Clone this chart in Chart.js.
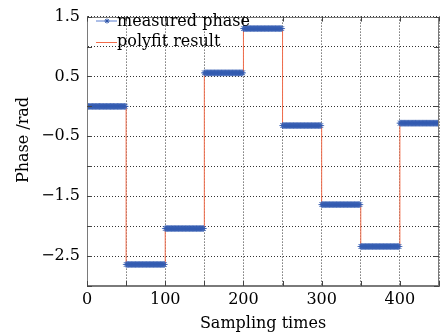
<!DOCTYPE html>
<html>
<head>
<meta charset="utf-8">
<script src="https://cdn.jsdelivr.net/npm/chart.js@4/dist/chart.umd.min.js"></script>
<style>
  html, body { margin: 0; padding: 0; background: #fff; }
  canvas { display: block; }
</style>
</head>
<body>
<canvas id="phaseChart" width="444" height="336"></canvas>
<script>
// step segments (sample index where each level starts)
const segmentStarts = [0, 50, 100, 150, 200, 250, 300, 350, 400];
const lastSample = 450;
// level of the measured phase in each segment, rad
const measuredLevels = [0.00, -2.64, -2.04, 0.56, 1.30, -0.32, -1.64, -2.34, -0.28];
// level of the polyfit result in each segment, rad
const polyfitLevels = [0.00, -2.64, -2.04, 0.56, 1.30, -0.32, -1.64, -2.34, -0.28];

const xLabels = [0, 100, 200, 300, 400];
const yLabels = [1.5, 0.5, -0.5, -1.5, -2.5];

const fontFamily = "'DejaVu Serif', 'Liberation Serif', serif";
const blue = '#2b52a6';
const orange = '#f26d4b';

// one measured point per sample
const measuredPoints = [];
segmentStarts.forEach(function(start, k) {
    const end = k + 1 < segmentStarts.length ? segmentStarts[k + 1] - 1 : lastSample;
    for (let i = start; i <= end; i++) {
        measuredPoints.push({ x: i, y: measuredLevels[k] });
    }
});

// polyfit as a step line
const polyfitPoints = segmentStarts.map(function(start, k) {
    return { x: start, y: polyfitLevels[k] };
});
polyfitPoints.push({ x: lastSample, y: polyfitLevels[polyfitLevels.length - 1] });

function drawStar(ctx, x, y, r) {
    ctx.beginPath();
    ctx.moveTo(x, y - r); ctx.lineTo(x, y + r);
    ctx.moveTo(x - r, y); ctx.lineTo(x + r, y);
    const d = r * Math.SQRT1_2;
    ctx.moveTo(x - d, y - d); ctx.lineTo(x + d, y + d);
    ctx.moveTo(x - d, y + d); ctx.lineTo(x + d, y - d);
    ctx.stroke();
}

const framePlugin = {
    id: 'frame',
    afterDraw(chart) {
        const ctx = chart.ctx;
        const a = chart.chartArea;
        const xs = chart.scales.x;
        const ys = chart.scales.y;
        ctx.save();
        ctx.strokeStyle = '#7a7a7a';
        ctx.lineWidth = 1;
        ctx.strokeRect(Math.round(a.left) + 0.5, Math.round(a.top) + 0.5,
            Math.round(a.right - a.left) - 1, Math.round(a.bottom - a.top) - 1);
        // inward tick marks on all four sides
        ctx.strokeStyle = '#444';
        ctx.beginPath();
        xs.ticks.forEach(function(t) {
            const px = Math.round(xs.getPixelForValue(t.value)) + 0.5;
            ctx.moveTo(px, a.bottom); ctx.lineTo(px, a.bottom - 5);
            ctx.moveTo(px, a.top); ctx.lineTo(px, a.top + 5);
        });
        ys.ticks.forEach(function(t) {
            const py = Math.round(ys.getPixelForValue(t.value)) + 0.5;
            ctx.moveTo(a.left, py); ctx.lineTo(a.left + 5, py);
            ctx.moveTo(a.right, py); ctx.lineTo(a.right - 5, py);
        });
        ctx.stroke();

        // y axis title
        ctx.fillStyle = '#000';
        ctx.font = '16px ' + fontFamily;
        ctx.translate(28, 140);
        ctx.rotate(-Math.PI / 2);
        ctx.textAlign = 'center';
        ctx.textBaseline = 'alphabetic';
        ctx.fillText('Phase /rad', 0, 0);
        ctx.restore();

        // legend, top-left inside the plot
        ctx.save();
        ctx.font = '16px ' + fontFamily;
        ctx.fillStyle = '#000';
        ctx.textBaseline = 'alphabetic';
        const ds = chart.data.datasets;
        const rows = [
            { d: ds[0], y: 21, base: 25.5, star: true },
            { d: ds[1], y: 42.5, base: 46, star: false }
        ];
        rows.forEach(function(r) {
            ctx.strokeStyle = r.star ? '#5a7fd0' : r.d.borderColor;
            ctx.lineWidth = 1;
            ctx.beginPath();
            ctx.moveTo(96, r.y); ctx.lineTo(117, r.y);
            ctx.stroke();
            if (r.star) {
                ctx.strokeStyle = blue;
                drawStar(ctx, 107, r.y, 2.5);
            }
            ctx.fillText(r.d.label, 117, r.base);
        });
        ctx.restore();
    }
};

new Chart(document.getElementById('phaseChart'), {
    type: 'line',
    data: {
        datasets: [
            {
                label: 'measured phase',
                data: measuredPoints,
                borderColor: '#23468f',
                borderWidth: 1,
                pointStyle: 'star',
                pointRadius: 3.3,
                pointBorderWidth: 1,
                pointBorderColor: 'rgba(52, 92, 178, 0.75)',
                pointBackgroundColor: blue,
                fill: false,
                order: 0,
                // no blue line across the jumps between levels
                segment: {
                    borderColor: function(c) {
                        return c.p0.parsed.y !== c.p1.parsed.y ? 'rgba(0,0,0,0)' : undefined;
                    }
                }
            },
            {
                label: 'polyfit result',
                data: polyfitPoints,
                borderColor: orange,
                borderWidth: 1,
                stepped: true,
                pointRadius: 0,
                fill: false,
                order: 1
            }
        ]
    },
    options: {
        responsive: false,
        animation: false,
        devicePixelRatio: 1,
        layout: { padding: { top: 10, right: 5, left: 0, bottom: 0 } },
        plugins: {
            legend: { display: false },
            tooltip: { enabled: false }
        },
        scales: {
            x: {
                type: 'linear',
                min: 0,
                max: 450,
                ticks: {
                    stepSize: 50,
                    padding: 4,
                    maxRotation: 0,
                    autoSkip: false,
                    color: '#000',
                    font: { family: fontFamily, size: 16 },
                    callback: function(v) {
                        return xLabels.includes(v) ? String(v) : '';
                    }
                },
                grid: { color: '#333', drawTicks: false, lineWidth: 1 },
                border: { display: true, color: '#7a7a7a', dash: [1, 2] },
                title: {
                    display: true,
                    text: 'Sampling times',
                    color: '#000',
                    font: { family: fontFamily, size: 16 },
                    padding: { top: 0, bottom: 3 }
                },
                afterFit: function(scale) { scale.height = 50; }
            },
            y: {
                type: 'linear',
                min: -3,
                max: 1.5,
                ticks: {
                    stepSize: 0.5,
                    padding: 7,
                    autoSkip: false,
                    color: '#000',
                    font: { family: fontFamily, size: 16 },
                    callback: function(v) {
                        const hit = yLabels.some(function(l) { return Math.abs(l - v) < 1e-6; });
                        if (!hit) return '';
                        return v < 0 ? '\u2212' + Math.abs(v).toFixed(1) : v.toFixed(1);
                    }
                },
                grid: { color: '#333', drawTicks: false, lineWidth: 1 },
                border: { display: true, color: '#7a7a7a', dash: [1, 2] },
                afterFit: function(scale) { scale.width = 87; }
            }
        }
    },
    plugins: [framePlugin]
});
</script>
</body>
</html>
